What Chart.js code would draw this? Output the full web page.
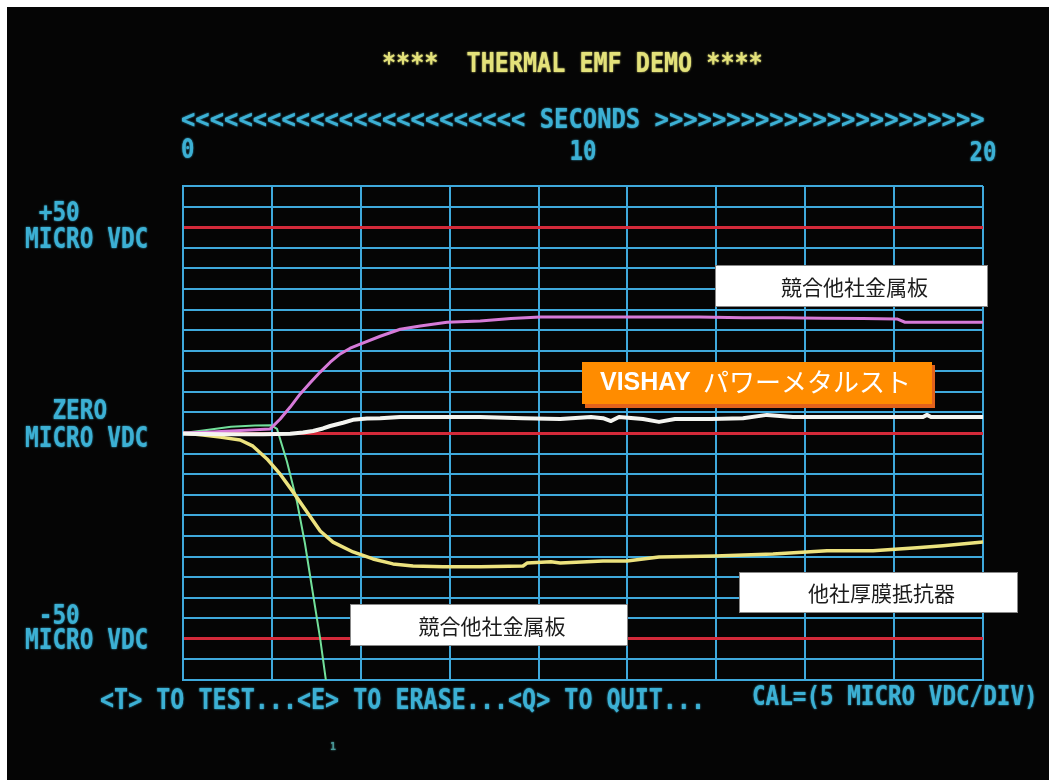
<html>
<head>
<meta charset="UTF-8">
<title>THERMAL EMF DEMO</title>
<script src="https://cdn.jsdelivr.net/npm/chart.js@4.4.0/dist/chart.umd.min.js"></script>
<style>
  body { margin: 0; background: #000; }
  canvas { display: block; }
</style>
</head>
<body>
<canvas id="emfChart" width="1049" height="780"></canvas>
<script>
// seconds / micro VDC
var magentaT = [0, 0.6, 1.2, 1.8, 2.18, 2.43, 2.68, 2.93, 3.18, 3.43, 3.68, 3.93, 4.18, 4.43, 4.93, 5.43, 5.93, 6.6, 7.43, 8.2, 8.93, 10, 11, 12, 12.9, 14, 15, 16, 17, 17.85, 18.05, 19, 20];
var magentaV = [0, 0.2, 0.5, 0.8, 1.0, 3.4, 6.3, 9.5, 12.2, 14.8, 17.2, 19.2, 20.6, 21.6, 23.5, 25.2, 26.0, 26.9, 27.2, 27.8, 28.2, 28.2, 28.2, 28.2, 28.2, 28.0, 28.0, 27.9, 27.8, 27.7, 26.9, 26.9, 26.9];

var whiteT = [0, 1, 2, 2.68, 3.0, 3.25, 3.5, 3.68, 4.0, 4.25, 4.6, 4.93, 5.43, 6.5, 7.43, 8.5, 9.43, 10.2, 10.5, 10.7, 10.9, 11.5, 11.9, 12.3, 13.2, 14.0, 14.6, 15.25, 16.5, 18.0, 18.5, 18.6, 18.7, 20];
var whiteV = [-0.2, -0.3, -0.3, -0.2, 0.1, 0.5, 1.1, 1.7, 2.5, 3.2, 3.5, 3.6, 3.9, 3.9, 3.9, 3.6, 3.4, 3.9, 3.6, 2.9, 3.9, 3.4, 2.7, 3.4, 3.4, 3.6, 4.4, 3.9, 3.9, 3.9, 3.9, 4.4, 3.9, 3.9];

var yellowT = [0, 0.5, 0.93, 1.43, 1.75, 2.1, 2.43, 2.75, 3.1, 3.43, 3.75, 4.25, 4.75, 5.25, 5.75, 6.5, 7.43, 8.5, 8.6, 9.2, 9.43, 10.5, 11.1, 11.9, 13.3, 14.75, 16.1, 17.25, 18.35, 19.0, 20];
var yellowV = [0, -0.5, -1.0, -1.7, -3.2, -6.3, -10.0, -14.3, -19.2, -23.8, -26.5, -28.9, -30.6, -31.8, -32.3, -32.5, -32.5, -32.3, -31.6, -31.3, -31.6, -31.1, -31.1, -30.1, -29.9, -29.4, -28.6, -28.6, -27.9, -27.4, -26.5];

var greenT = [0, 0.5, 1.2, 1.8, 2.2, 2.35, 2.6, 2.85, 3.05, 3.23, 3.43, 3.6];
var greenV = [0, 0.6, 1.5, 1.8, 1.9, 1.0, -7.0, -16.7, -26.9, -37.9, -50, -62];

var xTickLabels = ['0', '10', '20'];
var xTickValues = [0, 10, 20];
var yLabelValues = [50, 0, -50];
var yLabelTop = [' +50', '  ZERO', ' -50'];
var yLabelBottom = 'MICRO VDC';
var redLevels = [50, 0, -50];
var xDivisions = 9;

var titleText = '****  THERMAL EMF DEMO ****';
var axisText = '<<<<<<<<<<<<<<<<<<<<<<<< SECONDS >>>>>>>>>>>>>>>>>>>>>>>';
var helpText = '<T> TO TEST...<E> TO ERASE...<Q> TO QUIT...';
var calText = 'CAL=(5 MICRO VDC/DIV)';

function pairs(t, v) {
	return t.map(function(x, i) { return {x: x, y: v[i]}; });
}

var CYAN = '#3cb0d4';
var GRID = '#3fa9dc';

// stretched monospace text, like the CRT character cells
function crt(ctx, str, x, base, charW, capH, color, align) {
	var fs = capH / 0.729;
	ctx.save();
	ctx.font = 'bold ' + fs + 'px "DejaVu Sans Mono"';
	var adv = ctx.measureText('M').width;
	var sx = charW / adv;
	var w = str.length * charW;
	if (align == 'center') x -= w / 2;
	ctx.fillStyle = color;
	ctx.shadowColor = color;
	ctx.shadowBlur = 2;
	ctx.translate(x, base);
	ctx.scale(sx, 1);
	ctx.textAlign = 'left';
	ctx.textBaseline = 'alphabetic';
	ctx.fillText(str, 0, 0);
	ctx.restore();
}

function whiteBox(ctx, x, y, w, h, text) {
	ctx.save();
	ctx.fillStyle = '#fff';
	ctx.fillRect(x, y, w, h);
	ctx.strokeStyle = '#888';
	ctx.lineWidth = 1;
	ctx.strokeRect(x + 0.5, y + 0.5, w - 1, h - 1);
	ctx.fillStyle = '#1c1c1c';
	ctx.font = '21px "Noto Sans CJK JP"';
	ctx.textAlign = 'center';
	ctx.textBaseline = 'middle';
	ctx.fillText(text, x + w / 2 + 3, y + h / 2 + 1);
	ctx.restore();
}

var screenPlugin = {
	id: 'screen',
	beforeDraw: function(chart) {
		var ctx = chart.ctx;
		ctx.save();
		ctx.fillStyle = '#050505';
		ctx.fillRect(0, 0, chart.width, chart.height);
		ctx.fillStyle = '#fff';
		ctx.fillRect(0, 0, chart.width, 7);
		ctx.fillRect(0, 0, 7, chart.height);
		ctx.restore();
	},
	afterDraw: function(chart) {
		var ctx = chart.ctx;
		var xs = chart.scales.x, ys = chart.scales.y;

		crt(ctx, titleText, 382, 72, 14.1, 20, '#e4e27a');
		crt(ctx, axisText, 181, 128, 14.35, 20, CYAN);
		for (var i = 0; i < xTickLabels.length; i++) {
			var px = xs.getPixelForValue(xTickValues[i]);
			if (i == 0) crt(ctx, xTickLabels[i], px - 2, 158, 13.5, 19, CYAN);
			else crt(ctx, xTickLabels[i], px, 159 + i, 13.5, 19, CYAN, 'center');
		}
		var offTop = [-6, -14, -15], offBot = [21, 14, 10];
		for (var j = 0; j < yLabelValues.length; j++) {
			var py = ys.getPixelForValue(yLabelValues[j]);
			crt(ctx, yLabelTop[j], 25, py + offTop[j], 13.7, 20, CYAN);
			crt(ctx, yLabelBottom, 25, py + offBot[j], 13.7, 21, CYAN);
		}
		crt(ctx, helpText, 100, 709, 14.07, 21, CYAN);
		crt(ctx, calText, 752, 705, 13.6, 20, CYAN);
		crt(ctx, '1', 330, 750, 6, 8, '#4a9a9a');

		// captions
		whiteBox(ctx, 715, 265, 273, 42, '競合他社金属板');
		whiteBox(ctx, 739, 572, 279, 41, '他社厚膜抵抗器');
		whiteBox(ctx, 350, 604, 278, 42, '競合他社金属板');

		ctx.save();
		ctx.fillStyle = '#e2621c';
		ctx.fillRect(585, 365, 350, 43);
		ctx.fillStyle = '#ff8c00';
		ctx.fillRect(582, 362, 350, 42);
		ctx.fillStyle = '#fff';
		ctx.textBaseline = 'alphabetic';
		ctx.font = 'bold 25px "Liberation Sans"';
		ctx.fillText('VISHAY', 600, 390);
		ctx.font = '26px "Noto Sans CJK JP"';
		ctx.fillText('パワーメタルスト', 703, 392);
		ctx.restore();
	}
};

var ctxL = document.getElementById('emfChart').getContext('2d');
var emfChart = new Chart(ctxL, {
	type: 'line',
	data: {
		datasets: [
			{ label: 'VISHAY', data: pairs(whiteT, whiteV), borderColor: '#f4f4f0', borderWidth: 4 },
			{ label: 'metal plate A', data: pairs(magentaT, magentaV), borderColor: '#d67ad8', borderWidth: 3 },
			{ label: 'thick film', data: pairs(yellowT, yellowV), borderColor: '#ece27e', borderWidth: 3.5 },
			{ label: 'metal plate B', data: pairs(greenT, greenV), borderColor: '#72e09a', borderWidth: 2 }
		]
	},
	options: {
		responsive: false,
		animation: false,
		layout: { padding: { left: 183, top: 186, right: 66, bottom: 100 } },
		elements: {
			point: { radius: 0 },
			line: { tension: 0, borderCapStyle: 'round', borderJoinStyle: 'round' }
		},
		plugins: { legend: { display: false }, tooltip: { enabled: false } },
		scales: {
			x: {
				type: 'linear', min: 0, max: 20,
				afterBuildTicks: function(scale) {
					var t = [];
					for (var i = 0; i <= xDivisions; i++) t.push({ value: 20 * i / xDivisions });
					scale.ticks = t;
				},
				ticks: { display: false },
				grid: { color: GRID, lineWidth: 2, drawTicks: false },
				border: { color: GRID, width: 2 }
			},
			y: {
				min: -60, max: 60,
				ticks: { display: false, stepSize: 5 },
				grid: {
					drawTicks: false,
					color: function(c) { return redLevels.indexOf(c.tick.value) >= 0 ? '#d42a3a' : GRID; },
					lineWidth: function(c) { return redLevels.indexOf(c.tick.value) >= 0 ? 3 : 2; }
				},
				border: { color: GRID, width: 2 }
			}
		}
	},
	plugins: [screenPlugin]
});
</script>
</body>
</html>
